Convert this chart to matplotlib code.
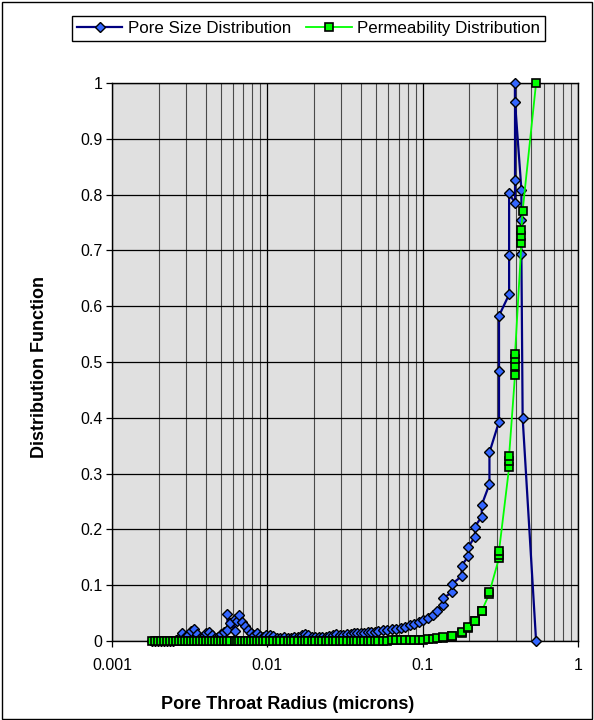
import matplotlib
matplotlib.use("Agg")
import matplotlib.pyplot as plt
from matplotlib.patches import Rectangle
from matplotlib.ticker import LogLocator, FixedLocator, FixedFormatter, NullFormatter

plt.rcParams["font.family"] = ["Liberation Sans", "DejaVu Sans"]

# pore throat radius (microns), shared by both curves
radius = [
    0.00181, 0.00190, 0.00199, 0.00208, 0.00217, 0.00227, 0.00237, 0.00248, 0.00259, 0.00271,
    0.00283, 0.00296, 0.00310, 0.00324, 0.00339, 0.00354, 0.00370, 0.00387, 0.00405, 0.00423,
    0.00443, 0.00463, 0.00484, 0.00506, 0.00529, 0.00553, 0.00553, 0.00578, 0.00615, 0.00615,
    0.00640, 0.00661, 0.00691, 0.00722, 0.00755, 0.00790, 0.00826, 0.00863, 0.00903, 0.00944,
    0.00987,
    0.0104, 0.0109, 0.0115, 0.0121, 0.0128, 0.0135, 0.0142, 0.0149, 0.0157, 0.0166,
    0.0174, 0.0184, 0.0194, 0.0204, 0.0215, 0.0226, 0.0238, 0.0251, 0.0264, 0.0278,
    0.0293, 0.0309, 0.0325, 0.0343, 0.0361, 0.0380, 0.0400, 0.0422, 0.0444, 0.0468,
    0.0493, 0.0519,
    0.0555, 0.0593, 0.0634, 0.0678, 0.0725, 0.0775, 0.0828, 0.0885, 0.0946, 0.101,
    0.108, 0.116, 0.124,
    0.1346, 0.1346, 0.154, 0.154, 0.178, 0.178, 0.197, 0.197, 0.217, 0.217,
    0.240, 0.240, 0.269, 0.269, 0.310, 0.310, 0.310, 0.360, 0.360, 0.360,
    0.393, 0.393, 0.393, 0.393, 0.432, 0.432, 0.432, 0.440, 0.537,
]

pore_size = [
    0, 0, 0, 0, 0, 0, 0, 0, 0.002, 0.006,
    0.014, 0.008, 0.010, 0.018, 0.021, 0.012, 0.006, 0.008, 0.014, 0.017,
    0.010, 0.006, 0.008, 0.012, 0.016, 0.020, 0.048, 0.032, 0.018, 0.040,
    0.036, 0.046, 0.034, 0.027, 0.020, 0.015, 0.011, 0.014, 0.009, 0.008,
    0.010,
    0.011, 0.009, 0.006, 0.006, 0.007, 0.006, 0.006, 0.007, 0.008, 0.011,
    0.013, 0.010, 0.007, 0.007, 0.008, 0.008, 0.008, 0.009, 0.010, 0.012,
    0.011, 0.011, 0.012, 0.013, 0.014, 0.014, 0.015, 0.015, 0.016, 0.016,
    0.017, 0.018,
    0.019, 0.020, 0.021, 0.022, 0.024, 0.026, 0.028, 0.031, 0.034, 0.037,
    0.041, 0.046, 0.054,
    0.0645, 0.0765, 0.087, 0.102, 0.116, 0.135, 0.152, 0.169, 0.187, 0.205,
    0.223, 0.244, 0.281, 0.338, 0.393, 0.484, 0.583, 0.621, 0.692, 0.802,
    0.785, 0.827, 1.0, 0.966, 0.809, 0.754, 0.694, 0.400, 0.0,
]

permeability = [
    0, 0, 0, 0, 0, 0, 0, 0, 0, 0,
    0, 0, 0, 0, 0, 0, 0, 0, 0, 0,
    0, 0, 0, 0, 0, 0, 0, 0, 0, 0,
    0, 0, 0, 0, 0, 0, 0, 0, 0, 0,
    0,
    0, 0, 0, 0, 0, 0, 0, 0, 0, 0,
    0, 0, 0, 0, 0, 0, 0.0001, 0.0001, 0.0002, 0.0002,
    0.0002, 0.0003, 0.0003, 0.0003, 0.0004, 0.0004, 0.0005, 0.0005, 0.0006, 0.0006,
    0.0007, 0.0008,
    0.0008, 0.0009, 0.0010, 0.0011, 0.0013, 0.0015, 0.0017, 0.0020, 0.0023, 0.0027,
    0.0032, 0.0038, 0.0046,
    0.0063, 0.0066, 0.0090, 0.0095, 0.0150, 0.0156, 0.0240, 0.0245, 0.035, 0.036,
    0.053, 0.054, 0.085, 0.087, 0.149, 0.155, 0.161, 0.311, 0.322, 0.332,
    0.477, 0.493, 0.505, 0.514, 0.713, 0.725, 0.737, 0.771, 1.0,
]

x_ticks = [0.001, 0.01, 0.1, 1]
x_tick_labels = ["0.001", "0.01", "0.1", "1"]
y_ticks = [0, 0.1, 0.2, 0.3, 0.4, 0.5, 0.6, 0.7, 0.8, 0.9, 1]
y_tick_labels = ["0", "0.1", "0.2", "0.3", "0.4", "0.5", "0.6", "0.7", "0.8", "0.9", "1"]

fig = plt.figure(figsize=(5.94, 7.2), dpi=100)
ax = fig.add_axes([0.1886, 0.1097, 0.7845, 0.775])
ax.set_facecolor("#E0E0E0")
ax.set_axisbelow(True)

ax.set_xscale("log")
ax.set_xlim(0.001, 1)
ax.set_ylim(0, 1)

ax.xaxis.set_major_locator(FixedLocator(x_ticks))
ax.xaxis.set_major_formatter(FixedFormatter(x_tick_labels))
ax.xaxis.set_minor_locator(LogLocator(base=10, subs=range(2, 10)))
ax.xaxis.set_minor_formatter(NullFormatter())
ax.yaxis.set_major_locator(FixedLocator(y_ticks))
ax.yaxis.set_major_formatter(FixedFormatter(y_tick_labels))

ax.grid(True, which="major", axis="both", color="black", linewidth=0.9)
ax.grid(True, which="minor", axis="x", color="#4a4a4a", linewidth=0.8)

ax.tick_params(axis="both", which="major", direction="out", length=4, width=0.9,
               labelsize=11.5, colors="black")
ax.tick_params(axis="y", which="major", pad=3)
ax.tick_params(axis="x", which="major", pad=8)
ax.tick_params(axis="x", which="minor", length=0)
for sp in ax.spines.values():
    sp.set_color("black")
    sp.set_linewidth(1)

ax.plot(radius, pore_size, color="#000080", linewidth=1.6, marker="D", markersize=5.5,
        markerfacecolor="#3366FF", markeredgecolor="black", markeredgewidth=1.0,
        clip_on=False, zorder=3, label="Pore Size Distribution")
ax.plot(radius, permeability, color="#00FF00", linewidth=1.3, marker="s", markersize=6,
        markerfacecolor="#00FF00", markeredgecolor="black", markeredgewidth=1.2,
        clip_on=False, zorder=4, label="Permeability Distribution")

fig.text(0.485, 0.021, "Pore Throat Radius (microns)", ha="center", va="center",
         fontsize=13, fontweight="bold")
fig.text(0.067, 0.49, "Distribution Function", ha="center", va="center",
         rotation=90, fontsize=13, fontweight="bold")

leg = fig.legend(loc="upper center", bbox_to_anchor=(0.519, 0.978), ncol=2,
                 frameon=True, fancybox=False, edgecolor="black", framealpha=1,
                 fontsize=12.2, handlelength=2.7, columnspacing=0.9,
                 borderpad=0.3, handletextpad=0.3, borderaxespad=0)
leg.get_frame().set_linewidth(1)

fig.patches.append(Rectangle((0.003, 0.002), 0.994, 0.995, transform=fig.transFigure,
                             fill=False, edgecolor="black", linewidth=1))

fig.savefig("out.png", dpi=100)
